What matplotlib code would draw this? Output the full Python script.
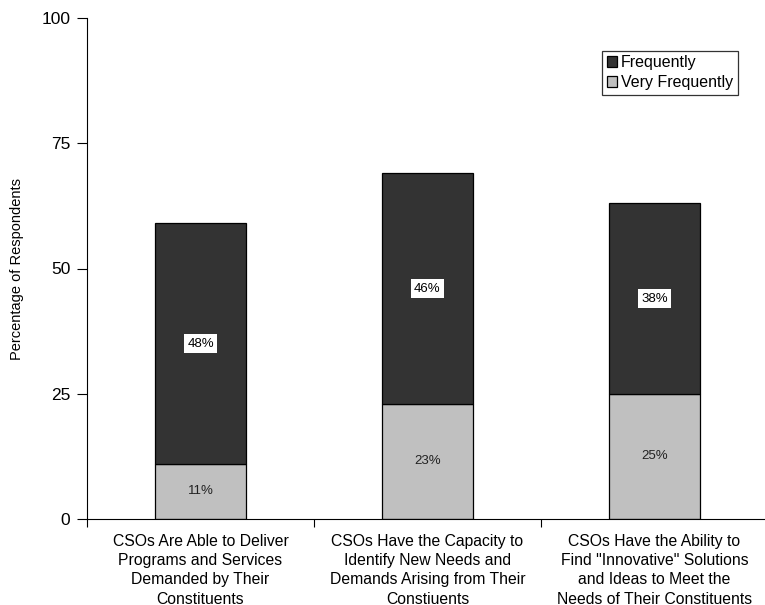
import matplotlib.pyplot as plt
import numpy as np

plt.rcParams['font.family'] = ['Liberation Sans', 'DejaVu Sans']

# === Data ===
categories = [
    "CSOs Are Able to Deliver\nPrograms and Services\nDemanded by Their\nConstituents",
    "CSOs Have the Capacity to\nIdentify New Needs and\nDemands Arising from Their\nConstiuents",
    "CSOs Have the Ability to\nFind \"Innovative\" Solutions\nand Ideas to Meet the\nNeeds of Their Constituents",
]
very_frequently = [11, 23, 25]
frequently = [48, 46, 38]

x = np.arange(len(categories))

fig = plt.figure(figsize=(7.65, 6.05), dpi=100)
ax = fig.add_axes([87 / 765, 86 / 605, 681 / 765, 501 / 605])

b1 = ax.bar(x, very_frequently, width=0.405, color="#c0c0c0", edgecolor="black", linewidth=0.9,
            label="Very Frequently")
b2 = ax.bar(x, frequently, width=0.405, bottom=very_frequently, color="#333333", edgecolor="black",
            linewidth=0.9, label="Frequently")

for xi, v, f in zip(x, very_frequently, frequently):
    ax.text(xi, v / 2, f"{v}%", ha="center", va="center", fontsize=9.5, color="#222222")
    ax.text(xi, v + f / 2, f"{f}%", ha="center", va="center", fontsize=9.5, color="black",
            bbox=dict(facecolor="white", edgecolor="none", pad=2.5))

ax.set_xlim(-0.5, 2.5)
ax.set_ylim(0, 100)
ax.set_yticks([0, 25, 50, 75, 100])
ax.tick_params(axis="y", labelsize=12.5, length=7, direction="out", pad=5)
ax.set_xticks([-0.5, 0.5, 1.5, 2.5])
ax.set_xticklabels([])
ax.tick_params(axis="x", length=6, direction="out")
ax.set_xticks(x, minor=True)
ax.set_xticklabels(categories, minor=True, fontsize=11.3, linespacing=1.34)
ax.tick_params(axis="x", which="minor", length=0, pad=11)
ax.spines["top"].set_visible(False)
ax.spines["right"].set_visible(False)
ax.set_ylabel("Percentage of Respondents", fontsize=10.5)
ax.yaxis.set_label_coords(-0.092, 0.5)

handles = [b2, b1]
leg = ax.legend(handles, ["Frequently", "Very Frequently"], loc="upper right",
                bbox_to_anchor=(0.956, 0.935), fontsize=11.5, frameon=True, fancybox=False,
                edgecolor="black", handlelength=0.65, handleheight=0.65, handletextpad=0.25,
                borderpad=0.3, labelspacing=0.3, borderaxespad=0)
leg.get_frame().set_linewidth(0.9)

plt.savefig("out.png", dpi=100)
plt.close()
